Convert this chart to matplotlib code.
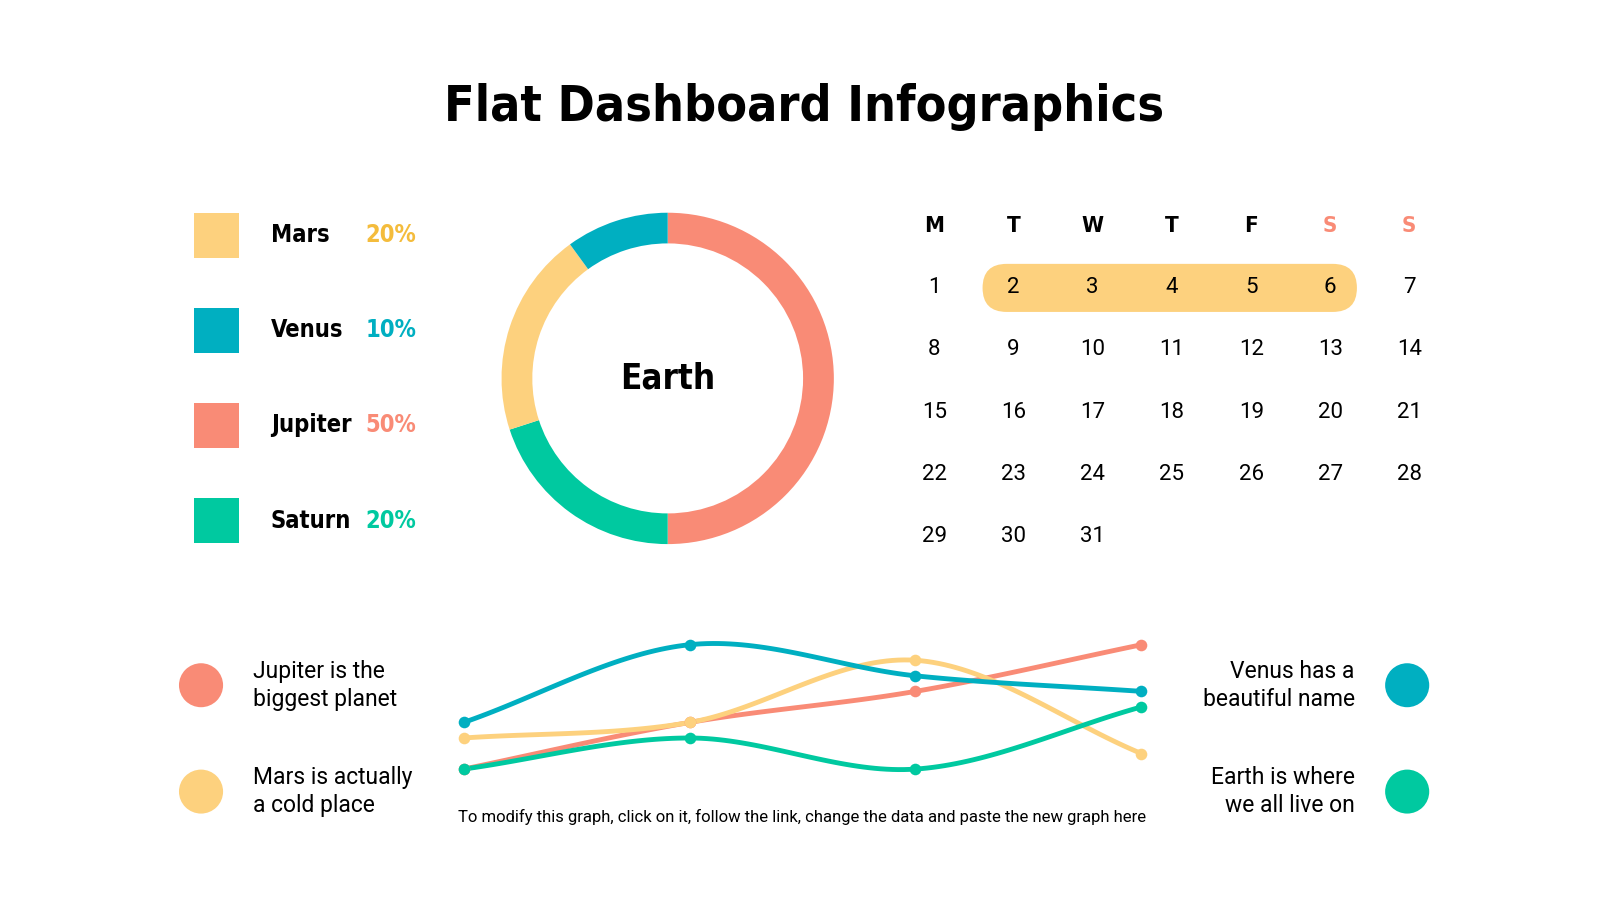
import numpy as np
import matplotlib.pyplot as plt
from matplotlib.patches import Wedge, Rectangle, Circle, FancyBboxPatch

RED = '#F98B76'
YEL = '#FDD17E'
TEAL = '#00AFC1'
GRN = '#00C9A0'

planets = ['Mars', 'Venus', 'Jupiter', 'Saturn']
shares = [20, 10, 50, 20]
planet_colors = [YEL, TEAL, RED, GRN]
pct_colors = ['#F4BC3C', TEAL, RED, GRN]

days = ['M', 'T', 'W', 'T', 'F', 'S', 'S']
n_days = 31
first_col = 0

line_x = [0, 1, 2, 3]
series = {
    'Jupiter': ([0, 3, 5, 8], RED),
    'Mars': ([2, 3, 7, 1], YEL),
    'Venus': ([3, 8, 6, 5], TEAL),
    'Saturn': ([0, 2, 0, 4], GRN),
}
notes_left = [('Jupiter is the\nbiggest planet', RED), ('Mars is actually\na cold place', YEL)]
notes_right = [('Venus has a\nbeautiful name', TEAL), ('Earth is where\nwe all live on', GRN)]

W, H = 1560, 880
def Y(y):
    return H - y

fig = plt.figure(figsize=(16, 9), dpi=100)
ax = fig.add_axes([0, 0, 1, 1])
ax.set_xlim(0, W)
ax.set_ylim(0, H)
ax.axis('off')

narrow = dict(family='DejaVu Sans', fontstretch='condensed', fontweight='bold')
ax.text(784, Y(105), 'Flat Dashboard Infographics', ha='center', va='center',
        fontsize=36, **narrow)

# legend
for i, (p, s, c, pc) in enumerate(zip(planets, shares, planet_colors, pct_colors)):
    yc = 230 + i * 93
    ax.add_patch(Rectangle((189, Y(yc + 22)), 44, 44, color=c, lw=0))
    ax.text(264, Y(yc), p, ha='left', va='center', fontsize=17, **narrow)
    ax.text(356, Y(yc), f'{s}%', ha='left', va='center', fontsize=17, color=pc, **narrow)

# donut: clockwise from top, Jupiter, Saturn, Mars, Venus
order = [2, 3, 0, 1]
cx, cy, R = 651, Y(370), 162
ang = 90.0
for i in order:
    sweep = shares[i] / 100 * 360
    ax.add_patch(Wedge((cx, cy), R, ang - sweep, ang, width=30, color=planet_colors[i], lw=0))
    ang -= sweep
ax.text(cx, cy, 'Earth', ha='center', va='center', fontsize=25, **narrow)

# calendar
col_x = [911, 988, 1065, 1142, 1220, 1297, 1374]
row_y = [281, 342, 403, 464, 525]
ax.add_patch(FancyBboxPatch((958 + 23.5, Y(281.5)), 365 - 47, 0,
                            boxstyle='round,pad=23.5,rounding_size=23.5', color=YEL, lw=0))
for j, d in enumerate(days):
    ax.text(col_x[j], Y(221), d, ha='center', va='center', fontsize=16,
            color=RED if j >= 5 else 'black', **narrow)
for n in range(1, n_days + 1):
    k = n - 1 + first_col
    ax.text(col_x[k % 7], Y(row_y[k // 7]), str(n), ha='center', va='center',
            fontsize=16, family=['Roboto', 'DejaVu Sans'], zorder=3)

# smooth line chart
def px(v):
    return 452 + v * 220.3
def py(v):
    return Y(752 - v * 15.2)

def smooth(xs, ys, n=40):
    P = np.column_stack([np.asarray(xs, float), np.asarray(ys, float)])
    P = np.vstack([P[0] - (P[1] - P[0]), P, P[-1] + (P[-1] - P[-2])])
    out = []
    for i in range(1, len(P) - 2):
        p0, p1, p2, p3 = P[i - 1], P[i], P[i + 1], P[i + 2]
        t = np.linspace(0, 1, n)[:, None]
        seg = 0.5 * (2 * p1 + (-p0 + p2) * t + (2 * p0 - 5 * p1 + 4 * p2 - p3) * t ** 2
                     + (-p0 + 3 * p1 - 3 * p2 + p3) * t ** 3)
        out.append(seg)
    return np.vstack(out)

for name, (vals, c) in series.items():
    xs = [px(v) for v in line_x]
    ys = [py(v) for v in vals]
    curve = smooth(xs, ys)
    ax.plot(curve[:, 0], curve[:, 1], color=c, lw=3.5, solid_capstyle='round', zorder=3)
    ax.scatter(xs, ys, s=70, color=c, zorder=4, lw=0)

ax.text(782, Y(799), 'To modify this graph, click on it, follow the link, change the data and paste the new graph here',
        ha='center', va='center', fontsize=12, family=['Roboto', 'DejaVu Sans'])

for i, (t, c) in enumerate(notes_left):
    yc = 670 + i * 104
    ax.add_patch(Circle((196, Y(yc)), 21.5, color=c, lw=0))
    ax.text(247, Y(yc), t, ha='left', va='center', fontsize=16.5, linespacing=1.3,
            family=['Roboto', 'DejaVu Sans'])
for i, (t, c) in enumerate(notes_right):
    yc = 670 + i * 104
    ax.add_patch(Circle((1372, Y(yc)), 21.5, color=c, lw=0))
    ax.text(1321, Y(yc), t, ha='right', va='center', fontsize=16.5, linespacing=1.3,
            family=['Roboto', 'DejaVu Sans'])

fig.savefig('out.png', dpi=100, facecolor='white')
